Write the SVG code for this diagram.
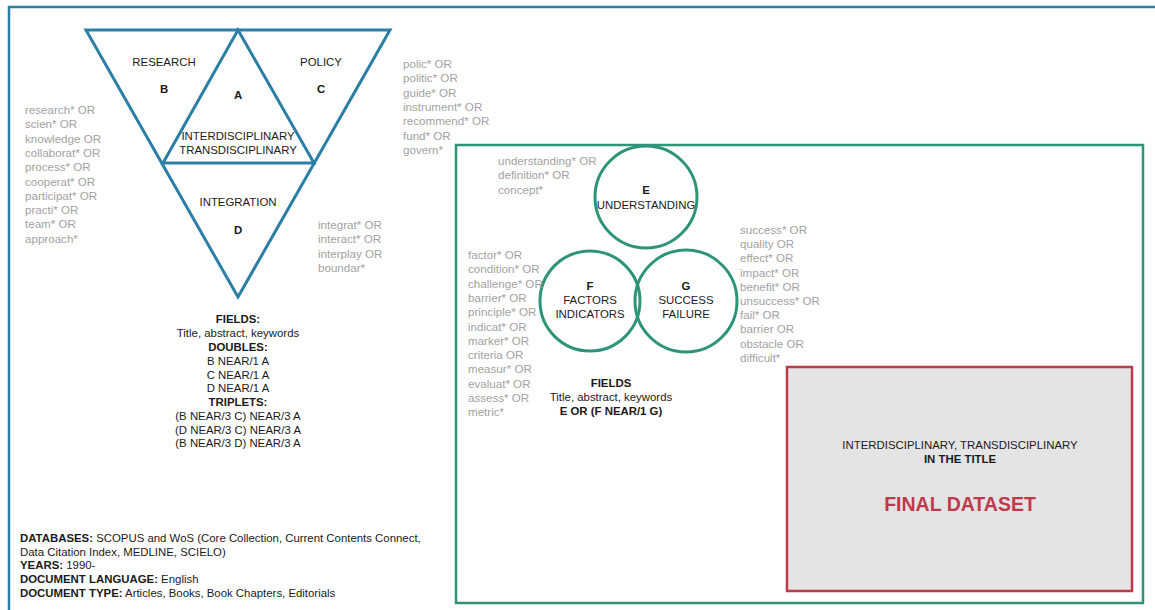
<svg xmlns="http://www.w3.org/2000/svg" width="1155" height="610" viewBox="0 0 1155 610">
<style>
text{font-family:"Liberation Sans",Arial,sans-serif;font-size:11.4px;fill:#1a1a1a}
.g{fill:#a2a2a2;font-size:11.6px}
.c{text-anchor:middle}
.b{font-weight:bold}
.tri{fill:none;stroke:#2b7ea6;stroke-width:3;stroke-linejoin:miter}
.circ{fill:none;stroke:#2e9478;stroke-width:3}
</style>
<rect x="0" y="0" width="1155" height="610" fill="#ffffff"/>
<rect id="frame-blue" x="9" y="7" width="1160" height="610" fill="none" stroke="#2b7ea6" stroke-width="2.5"/>

<g id="triangle">
<polygon class="tri" points="86,30 390,30 238,297"/>
<polygon class="tri" points="238,30 314,163 163,163"/>
<text class="c" x="164" y="66">RESEARCH</text>
<text class="c b" x="164" y="93">B</text>
<text class="c b" x="238" y="99">A</text>
<text class="c" x="321" y="66">POLICY</text>
<text class="c b" x="321" y="93">C</text>
<text class="c" x="238" y="140">INTERDISCIPLINARY</text>
<text class="c" x="238" y="154">TRANSDISCIPLINARY</text>
<text class="c" x="238" y="206">INTEGRATION</text>
<text class="c b" x="238" y="234">D</text>
</g>

<g id="terms-research">
<text class="g" x="25" y="114">research* OR</text>
<text class="g" x="25" y="128.3">scien* OR</text>
<text class="g" x="25" y="142.6">knowledge OR</text>
<text class="g" x="25" y="156.9">collaborat* OR</text>
<text class="g" x="25" y="171.2">process* OR</text>
<text class="g" x="25" y="185.5">cooperat* OR</text>
<text class="g" x="25" y="199.8">participat* OR</text>
<text class="g" x="25" y="214.1">practi* OR</text>
<text class="g" x="25" y="228.4">team* OR</text>
<text class="g" x="25" y="242.7">approach*</text>
</g>

<g id="terms-policy">
<text class="g" x="403" y="68">polic* OR</text>
<text class="g" x="403" y="82.3">politic* OR</text>
<text class="g" x="403" y="96.6">guide* OR</text>
<text class="g" x="403" y="110.9">instrument* OR</text>
<text class="g" x="403" y="125.2">recommend* OR</text>
<text class="g" x="403" y="139.5">fund* OR</text>
<text class="g" x="403" y="153.8">govern*</text>
</g>

<g id="terms-integration">
<text class="g" x="318" y="229">integrat* OR</text>
<text class="g" x="318" y="243.3">interact* OR</text>
<text class="g" x="318" y="257.6">interplay OR</text>
<text class="g" x="318" y="271.9">boundar*</text>
</g>

<g id="query-1">
<text class="c b" x="238" y="323">FIELDS:</text>
<text class="c" x="238" y="337">Title, abstract, keywords</text>
<text class="c b" x="238" y="351">DOUBLES:</text>
<text class="c" x="238" y="365">B NEAR/1 A</text>
<text class="c" x="238" y="378.5">C NEAR/1 A</text>
<text class="c" x="238" y="392">D NEAR/1 A</text>
<text class="c b" x="238" y="406">TRIPLETS:</text>
<text class="c" x="238" y="420">(B NEAR/3 C) NEAR/3 A</text>
<text class="c" x="238" y="433.5">(D NEAR/3 C) NEAR/3 A</text>
<text class="c" x="238" y="447">(B NEAR/3 D) NEAR/3 A</text>
</g>

<g id="meta">
<text x="20" y="542"><tspan class="b">DATABASES:</tspan> SCOPUS and WoS (Core Collection, Current Contents Connect,</text>
<text x="20" y="555.5">Data Citation Index, MEDLINE, SCIELO)</text>
<text x="20" y="569"><tspan class="b">YEARS:</tspan> 1990-</text>
<text x="20" y="583"><tspan class="b">DOCUMENT LANGUAGE:</tspan> English</text>
<text x="20" y="597"><tspan class="b">DOCUMENT TYPE:</tspan> Articles, Books, Book Chapters, Editorials</text>
</g>

<rect id="frame-green" x="456" y="145" width="687" height="458" fill="none" stroke="#2e9478" stroke-width="2.5"/>

<g id="circle-E">
<circle class="circ" cx="646" cy="197" r="51"/>
<text class="c b" x="646" y="194">E</text>
<text class="c" x="646" y="209">UNDERSTANDING</text>
</g>
<g id="circle-F">
<circle class="circ" cx="590" cy="301" r="50"/>
<text class="c b" x="590" y="290">F</text>
<text class="c" x="590" y="304">FACTORS</text>
<text class="c" x="590" y="318">INDICATORS</text>
</g>
<g id="circle-G">
<circle class="circ" cx="686" cy="301" r="51"/>
<text class="c b" x="686" y="290">G</text>
<text class="c" x="686" y="304">SUCCESS</text>
<text class="c" x="686" y="318">FAILURE</text>
</g>

<g id="terms-understanding">
<text class="g" x="498" y="165">understanding* OR</text>
<text class="g" x="498" y="179.3">definition* OR</text>
<text class="g" x="498" y="193.6">concept*</text>
</g>

<g id="terms-factors">
<text class="g" x="468" y="259">factor* OR</text>
<text class="g" x="468" y="273.3">condition* OR</text>
<text class="g" x="468" y="287.6">challenge* OR</text>
<text class="g" x="468" y="301.9">barrier* OR</text>
<text class="g" x="468" y="316.2">principle* OR</text>
<text class="g" x="468" y="330.5">indicat* OR</text>
<text class="g" x="468" y="344.8">marker* OR</text>
<text class="g" x="468" y="359.1">criteria OR</text>
<text class="g" x="468" y="373.4">measur* OR</text>
<text class="g" x="468" y="387.7">evaluat* OR</text>
<text class="g" x="468" y="402">assess* OR</text>
<text class="g" x="468" y="416.3">metric*</text>
</g>

<g id="terms-success">
<text class="g" x="740" y="234">success* OR</text>
<text class="g" x="740" y="248.2">quality OR</text>
<text class="g" x="740" y="262.4">effect* OR</text>
<text class="g" x="740" y="276.6">impact* OR</text>
<text class="g" x="740" y="290.8">benefit* OR</text>
<text class="g" x="740" y="305">unsuccess* OR</text>
<text class="g" x="740" y="319.2">fail* OR</text>
<text class="g" x="740" y="333.4">barrier OR</text>
<text class="g" x="740" y="347.6">obstacle OR</text>
<text class="g" x="740" y="361.8">difficult*</text>
</g>

<g id="query-2">
<text class="c b" x="611" y="387">FIELDS</text>
<text class="c" x="611" y="401">Title, abstract, keywords</text>
<text class="c b" x="611" y="415">E OR (F NEAR/1 G)</text>
</g>

<g id="final-dataset">
<rect x="787" y="367" width="345" height="224" fill="#e4e4e4" stroke="#c0394b" stroke-width="2.5"/>
<text class="c" x="960" y="449">INTERDISCIPLINARY, TRANSDISCIPLINARY</text>
<text class="c b" x="960" y="463">IN THE TITLE</text>
<text class="c b" x="960" y="511" style="font-size:19.5px;fill:#c0394b">FINAL DATASET</text>
</g>
</svg>
